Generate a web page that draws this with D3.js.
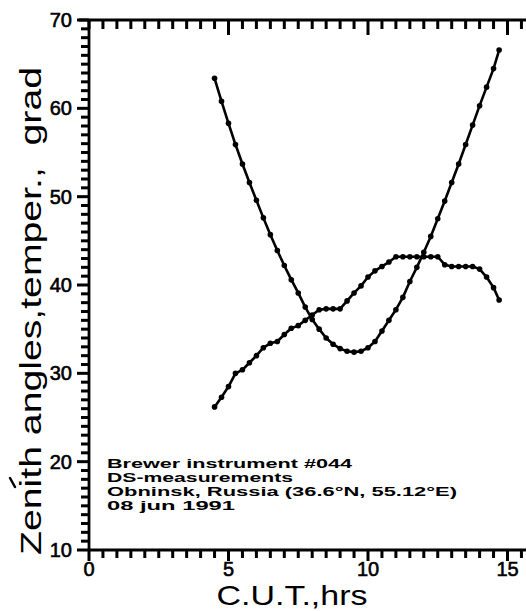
<!DOCTYPE html>
<html><head><meta charset="utf-8">
<script src="https://cdn.jsdelivr.net/npm/d3@7"></script>
<style>html,body{margin:0;padding:0;background:#fff;overflow:hidden}svg{display:block}</style>
</head><body>
<script>
// ---- data ----
const times = [4.50,4.75,5.00,5.25,5.50,5.75,6.00,6.25,6.50,6.75,7.00,7.25,7.50,7.75,8.00,8.25,8.50,8.75,9.00,9.25,9.50,9.75,10.00,10.25,10.50,10.75,11.00,11.25,11.50,11.75,12.00,12.25,12.50,12.75,13.00,13.25,13.50,13.75,14.00,14.25,14.50,14.70];
const zenith = [63.4,60.8,58.3,55.9,53.7,51.6,49.6,47.6,45.7,43.9,42.2,40.6,39.1,37.5,36.1,35.0,34.0,33.3,32.8,32.5,32.4,32.5,32.9,33.6,34.8,36.0,37.2,38.6,40.4,42.0,43.7,45.5,47.5,49.5,51.6,53.7,55.9,58.1,60.3,62.4,64.5,66.6];
const temper = [26.2,27.3,28.5,30.0,30.4,31.2,32.0,32.9,33.4,33.6,34.4,35.1,35.4,36.0,36.6,37.2,37.3,37.3,37.3,38.2,39.1,39.9,40.9,41.6,42.1,42.6,43.2,43.2,43.2,43.2,43.2,43.2,43.2,42.3,42.1,42.1,42.1,42.1,41.8,40.9,39.7,38.3];
const xMajorTicks = [0,5,10,15];
const yMajorTicks = [10,20,30,40,50,60,70];
const xMinorTicks = [0,0.5,1,1.5,2,2.5,3,3.5,4,4.5,5,5.5,6,6.5,7,7.5,8,8.5,9,9.5,10,10.5,11,11.5,12,12.5,13,13.5,14,14.5,15,15.5,16];
const yMinorTicks = [10,11,12,13,14,15,16,17,18,19,20,21,22,23,24,25,26,27,28,29,30,31,32,33,34,35,36,37,38,39,40,41,42,43,44,45,46,47,48,49,50,51,52,53,54,55,56,57,58,59,60,61,62,63,64,65,66,67,68,69,70];
const xTitle = "C.U.T.,hrs";
const yTitle = "Zenith angles,temper.,  grad";
const infoLines = ["Brewer instrument #044","DS-measurements","Obninsk, Russia (36.6°N, 55.12°E)","08 jun 1991"];

// ---- chart ----
const W = 526, H = 611;
const svg = d3.select("body").append("svg").attr("width", W).attr("height", H);
const x = d3.scaleLinear().domain([0,16]).range([89, 535.4]);
const y = d3.scaleLinear().domain([10,70]).range([550, 20]);
const font = "'Liberation Sans', Arial, sans-serif";
const isMajX = d => xMajorTicks.indexOf(d) >= 0;
const isMajY = d => yMajorTicks.indexOf(d) >= 0;
const x0 = x(0), yb = y(10), yt = y(70);

// axis lines
const dAxes = `M${x0},${yb}H${x(16)}M79,${yt}H${x(16)}M${x0},${yt}V${yb}`;
svg.append("path").attr("d", dAxes).attr("fill","none").attr("stroke","#000").attr("stroke-width",2.8);

// ticks
const tickG = svg.append("g");
xMinorTicks.forEach(d => {
  tickG.append("rect").attr("x", x(d)-1.5).attr("y", yb).attr("width", 3).attr("height", isMajX(d) ? 11 : 8).style("fill","#000");
  tickG.append("rect").attr("x", x(d)-1.5).attr("y", yt).attr("width", 3).attr("height", (isMajX(d) && d > 0) ? 15 : 9).style("fill","#000");
});
yMinorTicks.forEach(d => {
  const w = isMajY(d) ? 12 : 8;
  tickG.append("rect").attr("x", x0 - w).attr("y", y(d)-1.5).attr("width", w).attr("height", 3).style("fill","#000");
});

// tick labels
svg.append("g").selectAll("text").data(xMajorTicks).join("text")
  .attr("x",d=>x(d)).attr("y",576).attr("text-anchor","middle")
  .attr("font-family",font).attr("font-size",20).attr("fill","#000").attr("stroke","#000").attr("stroke-width",0.6)
  .text(d=>d);
svg.append("g").selectAll("text").data(yMajorTicks).join("text")
  .attr("x",72).attr("y",d=>y(d)+7).attr("text-anchor","end")
  .attr("font-family",font).attr("font-size",20).attr("fill","#000").attr("stroke","#000").attr("stroke-width",0.6)
  .text(d=>d);

// titles
svg.append("text").attr("x",292).attr("y",605).attr("text-anchor","middle")
  .attr("font-family",font).attr("font-size",28).attr("textLength",151).attr("lengthAdjust","spacingAndGlyphs")
  .text(xTitle);
svg.append("text").attr("transform","translate(41,311) rotate(-90)").attr("text-anchor","middle")
  .style("white-space","pre")
  .attr("font-family",font).attr("font-size",30).attr("textLength",488).attr("lengthAdjust","spacingAndGlyphs")
  .text(yTitle);
svg.append("path").attr("d","M10,478 L15,487").attr("stroke","#000").attr("stroke-width",2.5).attr("stroke-linecap","round").attr("fill","none");

// info text
const infoW = [245,186,350,128];
svg.append("g").selectAll("text").data(infoLines).join("text")
  .attr("x",107).attr("y",(d,i)=>468+i*14)
  .attr("font-family",font).attr("font-weight","bold").attr("font-size",13.5)
  .attr("textLength",(d,i)=>infoW[i]).attr("lengthAdjust","spacingAndGlyphs")
  .text(d=>d);

// series
const line = d3.line().x(d=>x(d[0])).y(d=>y(d[1]));
[zenith, temper].forEach(vals=>{
  const pts = times.map((t,i)=>[t, vals[i]]);
  svg.append("path").datum(pts).attr("d",line).attr("fill","none").attr("stroke","#000").attr("stroke-width",2.6).attr("stroke-linejoin","round");
  svg.append("g").selectAll("circle").data(pts).join("circle")
    .attr("cx",d=>x(d[0])).attr("cy",d=>y(d[1])).attr("r",2.8).attr("fill","#000");
});
</script>
</body></html>
